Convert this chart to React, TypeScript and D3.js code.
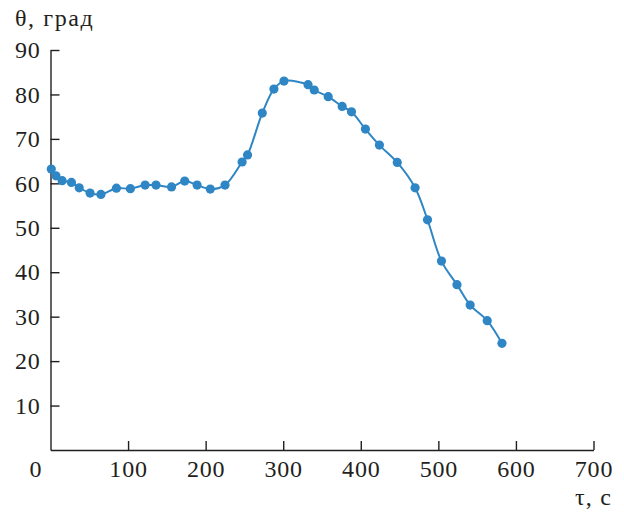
import React, { useEffect, useRef } from "react";
import * as d3 from "d3";

const times: number[] = [1, 7, 15, 27, 37, 51, 65, 85, 103, 122, 136, 156, 173, 189, 206, 225, 247, 254, 273, 288, 301, 332, 340, 358, 376, 388, 406, 424, 447, 470, 486, 504, 524, 541, 563, 582];
const theta: number[] = [63.2, 61.7, 60.6, 60.2, 59.0, 57.8, 57.5, 58.9, 58.8, 59.6, 59.6, 59.2, 60.5, 59.6, 58.7, 59.6, 64.8, 66.4, 75.8, 81.2, 83.0, 82.2, 81.0, 79.5, 77.3, 76.1, 72.2, 68.6, 64.7, 59.0, 51.8, 42.5, 37.2, 32.6, 29.1, 24.0];
const xTicks: number[] = [0, 100, 200, 300, 400, 500, 600, 700];
const yTicks: number[] = [10, 20, 30, 40, 50, 60, 70, 80, 90];
const yLabel = "θ, град";
const xLabel = "τ, с";

const W = 624;
const H = 512;
const FONT = "Liberation Serif";
const FS = 24;
const TEXT = "#231f20";
const BLUE = "#2f86c5";

export default function App() {
  const ref = useRef<SVGSVGElement>(null);
  useEffect(() => {
    const svg = d3.select(ref.current);
    svg.selectAll("*").remove();
    const x = d3.scaleLinear().domain([0, 700]).range([50.5, 593.5]);
    const y = d3.scaleLinear().domain([0, 90]).range([450, 50]);

    // x axis
    const gx = svg.append("g").attr("transform", `translate(0,${y(0)})`);
    gx.call(
      d3.axisBottom(x).tickValues(xTicks).tickSizeInner(-9).tickSizeOuter(0).tickPadding(10).tickFormat(d3.format("d"))
    );
    gx.select(".domain").attr("stroke", TEXT).attr("stroke-width", 1.4);
    gx.selectAll(".tick line").attr("stroke", TEXT).attr("stroke-width", 1.4);
    gx.selectAll(".tick").filter((d: any) => d === 0).select("line").remove();
    gx.selectAll(".tick text")
      .attr("font-family", FONT)
      .attr("font-size", FS)
      .attr("letter-spacing", 0.8)
      .attr("fill", TEXT)
      .attr("x", (d: any) => (d === 0 ? -15 : 0));

    // y axis
    const gy = svg.append("g").attr("transform", `translate(${x(0)},0)`);
    gy.call(
      d3.axisLeft(y).tickValues(yTicks).tickSizeInner(-9).tickSizeOuter(0).tickPadding(10).tickFormat(d3.format("d"))
    );
    gy.select(".domain").attr("stroke", TEXT).attr("stroke-width", 1.4);
    gy.selectAll(".tick line").attr("stroke", TEXT).attr("stroke-width", 1.4);
    gy.selectAll(".tick text").attr("font-family", FONT).attr("font-size", FS).attr("letter-spacing", 0.8).attr("fill", TEXT);

    svg.append("text").attr("x", 15).attr("y", 26).attr("font-family", FONT).attr("font-size", FS).attr("letter-spacing", 1.6).attr("fill", TEXT).text(yLabel);
    svg.append("text").attr("x", 612).attr("y", 505).attr("text-anchor", "end").attr("font-family", FONT).attr("font-size", FS).attr("letter-spacing", 1.2).attr("fill", TEXT).text(xLabel);

    const pts = times.map((t, i) => [t, theta[i]] as [number, number]);
    const line = d3
      .line<[number, number]>()
      .x((d) => x(d[0]))
      .y((d) => y(d[1]))
      .curve(d3.curveCatmullRom.alpha(0.5));
    svg.append("path").attr("d", line(pts)).attr("fill", "none").attr("stroke", BLUE).attr("stroke-width", 2);
    svg
      .append("g")
      .selectAll("circle")
      .data(pts)
      .join("circle")
      .attr("cx", (d) => x(d[0]))
      .attr("cy", (d) => y(d[1]))
      .attr("r", 4.6)
      .attr("fill", BLUE);
  }, []);
  return (
    <svg
      ref={ref}
      width={W}
      height={H}
      style={{ position: "absolute", left: 0, top: 0, background: "#fff" }}
    />
  );
}
